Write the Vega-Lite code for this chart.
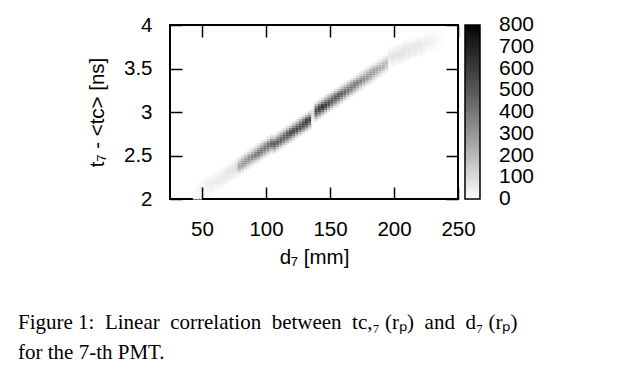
{
  "$schema": "https://vega.github.io/schema/vega-lite/v6.json",
  "width": 288,
  "height": 174,
  "autosize": {"type": "none"},
  "padding": {"left": 170, "top": 25, "right": 164, "bottom": 185},
  "background": "white",
  "config": {
    "view": {"stroke": "black", "strokeWidth": 2},
    "font": "Liberation Sans",
    "axis": {"grid": false, "domain": false, "tickColor": "black", "tickWidth": 1.5, "tickSize": -12, "labelColor": "black", "labelFontSize": 20.5, "labelFont": "Liberation Sans", "labelFlush": false, "titleFontSize": 20.5, "titleFont": "Liberation Sans", "titleFontWeight": "normal", "titleColor": "black"}
  },
  "title": {
    "text": ["Figure 1:\u00a0 Linear\u00a0 correlation\u00a0 between\u00a0 tc,₇ (rₚ)\u00a0 and\u00a0 d₇ (rₚ)", "for the 7-th PMT."],
    "orient": "bottom", "anchor": "start", "frame": "group", "dx": -152, "offset": 44,
    "font": "Liberation Serif", "fontSize": 21, "fontWeight": "normal", "color": "black", "lineHeight": 30
  },
  "data": {"values": [
{"d":42.5,"t":2,"n":16},{"d":42.5,"t":2.025,"n":19},{"d":42.5,"t":2.05,"n":20},{"d":42.5,"t":2.075,"n":19},{"d":42.5,"t":2.1,"n":16},{"d":42.5,"t":2.125,"n":11},
{"d":45,"t":2,"n":15},{"d":45,"t":2.025,"n":22},{"d":45,"t":2.05,"n":27},{"d":45,"t":2.075,"n":28},{"d":45,"t":2.1,"n":27},{"d":45,"t":2.125,"n":22},{"d":45,"t":2.15,"n":15},{"d":45,"t":2.175,"n":8},
{"d":47.5,"t":2,"n":11},{"d":47.5,"t":2.025,"n":19},{"d":47.5,"t":2.05,"n":28},{"d":47.5,"t":2.075,"n":33},{"d":47.5,"t":2.1,"n":35},{"d":47.5,"t":2.125,"n":33},{"d":47.5,"t":2.15,"n":28},{"d":47.5,"t":2.175,"n":19},{"d":47.5,"t":2.2,"n":11},
{"d":50,"t":2.025,"n":12},{"d":50,"t":2.05,"n":22},{"d":50,"t":2.075,"n":32},{"d":50,"t":2.1,"n":38},{"d":50,"t":2.125,"n":40},{"d":50,"t":2.15,"n":38},{"d":50,"t":2.175,"n":32},{"d":50,"t":2.2,"n":22},{"d":50,"t":2.225,"n":12},
{"d":52.5,"t":2.05,"n":13},{"d":52.5,"t":2.075,"n":24},{"d":52.5,"t":2.1,"n":35},{"d":52.5,"t":2.125,"n":42},{"d":52.5,"t":2.15,"n":44},{"d":52.5,"t":2.175,"n":42},{"d":52.5,"t":2.2,"n":35},{"d":52.5,"t":2.225,"n":24},{"d":52.5,"t":2.25,"n":13},
{"d":55,"t":2.05,"n":14},{"d":55,"t":2.075,"n":26},{"d":55,"t":2.1,"n":38},{"d":55,"t":2.125,"n":46},{"d":55,"t":2.15,"n":48},{"d":55,"t":2.175,"n":46},{"d":55,"t":2.2,"n":38},{"d":55,"t":2.225,"n":26},{"d":55,"t":2.25,"n":14},
{"d":57.5,"t":2.075,"n":16},{"d":57.5,"t":2.1,"n":29},{"d":57.5,"t":2.125,"n":42},{"d":57.5,"t":2.15,"n":49},{"d":57.5,"t":2.175,"n":52},{"d":57.5,"t":2.2,"n":49},{"d":57.5,"t":2.225,"n":42},{"d":57.5,"t":2.25,"n":29},{"d":57.5,"t":2.275,"n":16},
{"d":60,"t":2.1,"n":17},{"d":60,"t":2.125,"n":31},{"d":60,"t":2.15,"n":45},{"d":60,"t":2.175,"n":53},{"d":60,"t":2.2,"n":56},{"d":60,"t":2.225,"n":53},{"d":60,"t":2.25,"n":45},{"d":60,"t":2.275,"n":31},{"d":60,"t":2.3,"n":17},
{"d":62.5,"t":2.125,"n":18},{"d":62.5,"t":2.15,"n":33},{"d":62.5,"t":2.175,"n":48},{"d":62.5,"t":2.2,"n":57},{"d":62.5,"t":2.225,"n":60},{"d":62.5,"t":2.25,"n":57},{"d":62.5,"t":2.275,"n":48},{"d":62.5,"t":2.3,"n":33},{"d":62.5,"t":2.325,"n":18},
{"d":65,"t":2.15,"n":20},{"d":65,"t":2.175,"n":36},{"d":65,"t":2.2,"n":52},{"d":65,"t":2.225,"n":62},{"d":65,"t":2.25,"n":65},{"d":65,"t":2.275,"n":62},{"d":65,"t":2.3,"n":52},{"d":65,"t":2.325,"n":36},{"d":65,"t":2.35,"n":20},
{"d":67.5,"t":2.175,"n":21},{"d":67.5,"t":2.2,"n":39},{"d":67.5,"t":2.225,"n":56},{"d":67.5,"t":2.25,"n":67},{"d":67.5,"t":2.275,"n":70},{"d":67.5,"t":2.3,"n":67},{"d":67.5,"t":2.325,"n":56},{"d":67.5,"t":2.35,"n":39},{"d":67.5,"t":2.375,"n":21},
{"d":70,"t":2.2,"n":23},{"d":70,"t":2.225,"n":41},{"d":70,"t":2.25,"n":60},{"d":70,"t":2.275,"n":71},{"d":70,"t":2.3,"n":75},{"d":70,"t":2.325,"n":71},{"d":70,"t":2.35,"n":60},{"d":70,"t":2.375,"n":41},{"d":70,"t":2.4,"n":23},
{"d":72.5,"t":2.225,"n":26},{"d":72.5,"t":2.25,"n":47},{"d":72.5,"t":2.275,"n":68},{"d":72.5,"t":2.3,"n":81},{"d":72.5,"t":2.325,"n":85},{"d":72.5,"t":2.35,"n":81},{"d":72.5,"t":2.375,"n":68},{"d":72.5,"t":2.4,"n":47},{"d":72.5,"t":2.425,"n":26},
{"d":75,"t":2.25,"n":30},{"d":75,"t":2.275,"n":55},{"d":75,"t":2.3,"n":80},{"d":75,"t":2.325,"n":95},{"d":75,"t":2.35,"n":100},{"d":75,"t":2.375,"n":95},{"d":75,"t":2.4,"n":80},{"d":75,"t":2.425,"n":55},{"d":75,"t":2.45,"n":30},
{"d":77.5,"t":2.275,"n":35},{"d":77.5,"t":2.3,"n":86},{"d":77.5,"t":2.325,"n":165},{"d":77.5,"t":2.35,"n":238},{"d":77.5,"t":2.375,"n":270},{"d":77.5,"t":2.4,"n":238},{"d":77.5,"t":2.425,"n":165},{"d":77.5,"t":2.45,"n":86},{"d":77.5,"t":2.475,"n":35},
{"d":80,"t":2.3,"n":39},{"d":80,"t":2.325,"n":96},{"d":80,"t":2.35,"n":183},{"d":80,"t":2.375,"n":264},{"d":80,"t":2.4,"n":300},{"d":80,"t":2.425,"n":264},{"d":80,"t":2.45,"n":183},{"d":80,"t":2.475,"n":96},{"d":80,"t":2.5,"n":39},
{"d":82.5,"t":2.325,"n":42},{"d":82.5,"t":2.35,"n":104},{"d":82.5,"t":2.375,"n":198},{"d":82.5,"t":2.4,"n":286},{"d":82.5,"t":2.425,"n":325},{"d":82.5,"t":2.45,"n":286},{"d":82.5,"t":2.475,"n":198},{"d":82.5,"t":2.5,"n":104},{"d":82.5,"t":2.525,"n":42},
{"d":85,"t":2.35,"n":46},{"d":85,"t":2.375,"n":112},{"d":85,"t":2.4,"n":214},{"d":85,"t":2.425,"n":308},{"d":85,"t":2.45,"n":350},{"d":85,"t":2.475,"n":308},{"d":85,"t":2.5,"n":214},{"d":85,"t":2.525,"n":112},{"d":85,"t":2.55,"n":46},
{"d":87.5,"t":2.375,"n":48},{"d":87.5,"t":2.4,"n":118},{"d":87.5,"t":2.425,"n":226},{"d":87.5,"t":2.45,"n":326},{"d":87.5,"t":2.475,"n":370},{"d":87.5,"t":2.5,"n":326},{"d":87.5,"t":2.525,"n":226},{"d":87.5,"t":2.55,"n":118},{"d":87.5,"t":2.575,"n":48},
{"d":90,"t":2.4,"n":51},{"d":90,"t":2.425,"n":125},{"d":90,"t":2.45,"n":238},{"d":90,"t":2.475,"n":343},{"d":90,"t":2.5,"n":390},{"d":90,"t":2.525,"n":343},{"d":90,"t":2.55,"n":238},{"d":90,"t":2.575,"n":125},{"d":90,"t":2.6,"n":51},
{"d":92.5,"t":2.425,"n":53},{"d":92.5,"t":2.45,"n":131},{"d":92.5,"t":2.475,"n":250},{"d":92.5,"t":2.5,"n":361},{"d":92.5,"t":2.525,"n":410},{"d":92.5,"t":2.55,"n":361},{"d":92.5,"t":2.575,"n":250},{"d":92.5,"t":2.6,"n":131},{"d":92.5,"t":2.625,"n":53},
{"d":95,"t":2.45,"n":56},{"d":95,"t":2.475,"n":138},{"d":95,"t":2.5,"n":262},{"d":95,"t":2.525,"n":378},{"d":95,"t":2.55,"n":430},{"d":95,"t":2.575,"n":378},{"d":95,"t":2.6,"n":262},{"d":95,"t":2.625,"n":138},{"d":95,"t":2.65,"n":56},
{"d":97.5,"t":2.475,"n":58},{"d":97.5,"t":2.5,"n":142},{"d":97.5,"t":2.525,"n":271},{"d":97.5,"t":2.55,"n":392},{"d":97.5,"t":2.575,"n":445},{"d":97.5,"t":2.6,"n":392},{"d":97.5,"t":2.625,"n":271},{"d":97.5,"t":2.65,"n":142},{"d":97.5,"t":2.675,"n":58},
{"d":100,"t":2.5,"n":60},{"d":100,"t":2.525,"n":147},{"d":100,"t":2.55,"n":281},{"d":100,"t":2.575,"n":405},{"d":100,"t":2.6,"n":460},{"d":100,"t":2.625,"n":405},{"d":100,"t":2.65,"n":281},{"d":100,"t":2.675,"n":147},{"d":100,"t":2.7,"n":60},
{"d":102.5,"t":2.525,"n":62},{"d":102.5,"t":2.55,"n":152},{"d":102.5,"t":2.575,"n":290},{"d":102.5,"t":2.6,"n":418},{"d":102.5,"t":2.625,"n":475},{"d":102.5,"t":2.65,"n":418},{"d":102.5,"t":2.675,"n":290},{"d":102.5,"t":2.7,"n":152},{"d":102.5,"t":2.725,"n":62},
{"d":105,"t":2.525,"n":64},{"d":105,"t":2.55,"n":157},{"d":105,"t":2.575,"n":299},{"d":105,"t":2.6,"n":431},{"d":105,"t":2.625,"n":490},{"d":105,"t":2.65,"n":431},{"d":105,"t":2.675,"n":299},{"d":105,"t":2.7,"n":157},{"d":105,"t":2.725,"n":64},
{"d":107.5,"t":2.55,"n":66},{"d":107.5,"t":2.575,"n":162},{"d":107.5,"t":2.6,"n":308},{"d":107.5,"t":2.625,"n":444},{"d":107.5,"t":2.65,"n":505},{"d":107.5,"t":2.675,"n":444},{"d":107.5,"t":2.7,"n":308},{"d":107.5,"t":2.725,"n":162},{"d":107.5,"t":2.75,"n":66},
{"d":110,"t":2.575,"n":68},{"d":110,"t":2.6,"n":166},{"d":110,"t":2.625,"n":317},{"d":110,"t":2.65,"n":458},{"d":110,"t":2.675,"n":520},{"d":110,"t":2.7,"n":458},{"d":110,"t":2.725,"n":317},{"d":110,"t":2.75,"n":166},{"d":110,"t":2.775,"n":68},
{"d":112.5,"t":2.6,"n":70},{"d":112.5,"t":2.625,"n":171},{"d":112.5,"t":2.65,"n":326},{"d":112.5,"t":2.675,"n":471},{"d":112.5,"t":2.7,"n":535},{"d":112.5,"t":2.725,"n":471},{"d":112.5,"t":2.75,"n":326},{"d":112.5,"t":2.775,"n":171},{"d":112.5,"t":2.8,"n":70},
{"d":115,"t":2.625,"n":72},{"d":115,"t":2.65,"n":176},{"d":115,"t":2.675,"n":336},{"d":115,"t":2.7,"n":484},{"d":115,"t":2.725,"n":550},{"d":115,"t":2.75,"n":484},{"d":115,"t":2.775,"n":336},{"d":115,"t":2.8,"n":176},{"d":115,"t":2.825,"n":72},
{"d":117.5,"t":2.65,"n":73},{"d":117.5,"t":2.675,"n":181},{"d":117.5,"t":2.7,"n":345},{"d":117.5,"t":2.725,"n":497},{"d":117.5,"t":2.75,"n":565},{"d":117.5,"t":2.775,"n":497},{"d":117.5,"t":2.8,"n":345},{"d":117.5,"t":2.825,"n":181},{"d":117.5,"t":2.85,"n":73},
{"d":120,"t":2.675,"n":75},{"d":120,"t":2.7,"n":186},{"d":120,"t":2.725,"n":354},{"d":120,"t":2.75,"n":510},{"d":120,"t":2.775,"n":580},{"d":120,"t":2.8,"n":510},{"d":120,"t":2.825,"n":354},{"d":120,"t":2.85,"n":186},{"d":120,"t":2.875,"n":75},
{"d":122.5,"t":2.7,"n":77},{"d":122.5,"t":2.725,"n":190},{"d":122.5,"t":2.75,"n":363},{"d":122.5,"t":2.775,"n":524},{"d":122.5,"t":2.8,"n":595},{"d":122.5,"t":2.825,"n":524},{"d":122.5,"t":2.85,"n":363},{"d":122.5,"t":2.875,"n":190},{"d":122.5,"t":2.9,"n":77},
{"d":125,"t":2.725,"n":79},{"d":125,"t":2.75,"n":195},{"d":125,"t":2.775,"n":372},{"d":125,"t":2.8,"n":537},{"d":125,"t":2.825,"n":610},{"d":125,"t":2.85,"n":537},{"d":125,"t":2.875,"n":372},{"d":125,"t":2.9,"n":195},{"d":125,"t":2.925,"n":79},
{"d":127.5,"t":2.75,"n":81},{"d":127.5,"t":2.775,"n":200},{"d":127.5,"t":2.8,"n":381},{"d":127.5,"t":2.825,"n":550},{"d":127.5,"t":2.85,"n":625},{"d":127.5,"t":2.875,"n":550},{"d":127.5,"t":2.9,"n":381},{"d":127.5,"t":2.925,"n":200},{"d":127.5,"t":2.95,"n":81},
{"d":130,"t":2.775,"n":83},{"d":130,"t":2.8,"n":205},{"d":130,"t":2.825,"n":390},{"d":130,"t":2.85,"n":563},{"d":130,"t":2.875,"n":640},{"d":130,"t":2.9,"n":563},{"d":130,"t":2.925,"n":390},{"d":130,"t":2.95,"n":205},{"d":130,"t":2.975,"n":83},
{"d":132.5,"t":2.8,"n":75},{"d":132.5,"t":2.825,"n":186},{"d":132.5,"t":2.85,"n":354},{"d":132.5,"t":2.875,"n":510},{"d":132.5,"t":2.9,"n":580},{"d":132.5,"t":2.925,"n":510},{"d":132.5,"t":2.95,"n":354},{"d":132.5,"t":2.975,"n":186},{"d":132.5,"t":3,"n":75},
{"d":135,"t":2.875,"n":13},{"d":135,"t":2.9,"n":32},{"d":135,"t":2.925,"n":61},{"d":135,"t":2.95,"n":88},{"d":135,"t":2.975,"n":100},{"d":135,"t":3,"n":88},{"d":135,"t":3.025,"n":61},{"d":135,"t":3.05,"n":32},{"d":135,"t":3.075,"n":13},
{"d":137.5,"t":2.9,"n":79},{"d":137.5,"t":2.925,"n":195},{"d":137.5,"t":2.95,"n":372},{"d":137.5,"t":2.975,"n":537},{"d":137.5,"t":3,"n":610},{"d":137.5,"t":3.025,"n":537},{"d":137.5,"t":3.05,"n":372},{"d":137.5,"t":3.075,"n":195},{"d":137.5,"t":3.1,"n":79},
{"d":140,"t":2.925,"n":83},{"d":140,"t":2.95,"n":205},{"d":140,"t":2.975,"n":390},{"d":140,"t":3,"n":563},{"d":140,"t":3.025,"n":640},{"d":140,"t":3.05,"n":563},{"d":140,"t":3.075,"n":390},{"d":140,"t":3.1,"n":205},{"d":140,"t":3.125,"n":83},
{"d":142.5,"t":2.95,"n":82},{"d":142.5,"t":2.975,"n":202},{"d":142.5,"t":3,"n":384},{"d":142.5,"t":3.025,"n":554},{"d":142.5,"t":3.05,"n":630},{"d":142.5,"t":3.075,"n":554},{"d":142.5,"t":3.1,"n":384},{"d":142.5,"t":3.125,"n":202},{"d":142.5,"t":3.15,"n":82},
{"d":145,"t":2.975,"n":79},{"d":145,"t":3,"n":195},{"d":145,"t":3.025,"n":372},{"d":145,"t":3.05,"n":537},{"d":145,"t":3.075,"n":610},{"d":145,"t":3.1,"n":537},{"d":145,"t":3.125,"n":372},{"d":145,"t":3.15,"n":195},{"d":145,"t":3.175,"n":79},
{"d":147.5,"t":3,"n":77},{"d":147.5,"t":3.025,"n":189},{"d":147.5,"t":3.05,"n":360},{"d":147.5,"t":3.075,"n":519},{"d":147.5,"t":3.1,"n":590},{"d":147.5,"t":3.125,"n":519},{"d":147.5,"t":3.15,"n":360},{"d":147.5,"t":3.175,"n":189},{"d":147.5,"t":3.2,"n":77},
{"d":150,"t":3.025,"n":73},{"d":150,"t":3.05,"n":181},{"d":150,"t":3.075,"n":345},{"d":150,"t":3.1,"n":497},{"d":150,"t":3.125,"n":565},{"d":150,"t":3.15,"n":497},{"d":150,"t":3.175,"n":345},{"d":150,"t":3.2,"n":181},{"d":150,"t":3.225,"n":73},
{"d":152.5,"t":3.05,"n":70},{"d":152.5,"t":3.075,"n":173},{"d":152.5,"t":3.1,"n":329},{"d":152.5,"t":3.125,"n":475},{"d":152.5,"t":3.15,"n":540},{"d":152.5,"t":3.175,"n":475},{"d":152.5,"t":3.2,"n":329},{"d":152.5,"t":3.225,"n":173},{"d":152.5,"t":3.25,"n":70},
{"d":155,"t":3.075,"n":67},{"d":155,"t":3.1,"n":165},{"d":155,"t":3.125,"n":314},{"d":155,"t":3.15,"n":453},{"d":155,"t":3.175,"n":515},{"d":155,"t":3.2,"n":453},{"d":155,"t":3.225,"n":314},{"d":155,"t":3.25,"n":165},{"d":155,"t":3.275,"n":67},
{"d":157.5,"t":3.1,"n":64},{"d":157.5,"t":3.125,"n":157},{"d":157.5,"t":3.15,"n":299},{"d":157.5,"t":3.175,"n":431},{"d":157.5,"t":3.2,"n":490},{"d":157.5,"t":3.225,"n":431},{"d":157.5,"t":3.25,"n":299},{"d":157.5,"t":3.275,"n":157},{"d":157.5,"t":3.3,"n":64},
{"d":160,"t":3.125,"n":61},{"d":160,"t":3.15,"n":150},{"d":160,"t":3.175,"n":287},{"d":160,"t":3.2,"n":414},{"d":160,"t":3.225,"n":470},{"d":160,"t":3.25,"n":414},{"d":160,"t":3.275,"n":287},{"d":160,"t":3.3,"n":150},{"d":160,"t":3.325,"n":61},
{"d":162.5,"t":3.15,"n":58},{"d":162.5,"t":3.175,"n":142},{"d":162.5,"t":3.2,"n":271},{"d":162.5,"t":3.225,"n":392},{"d":162.5,"t":3.25,"n":445},{"d":162.5,"t":3.275,"n":392},{"d":162.5,"t":3.3,"n":271},{"d":162.5,"t":3.325,"n":142},{"d":162.5,"t":3.35,"n":58},
{"d":165,"t":3.175,"n":55},{"d":165,"t":3.2,"n":136},{"d":165,"t":3.225,"n":259},{"d":165,"t":3.25,"n":374},{"d":165,"t":3.275,"n":425},{"d":165,"t":3.3,"n":374},{"d":165,"t":3.325,"n":259},{"d":165,"t":3.35,"n":136},{"d":165,"t":3.375,"n":55},
{"d":167.5,"t":3.2,"n":53},{"d":167.5,"t":3.225,"n":130},{"d":167.5,"t":3.25,"n":247},{"d":167.5,"t":3.275,"n":356},{"d":167.5,"t":3.3,"n":405},{"d":167.5,"t":3.325,"n":356},{"d":167.5,"t":3.35,"n":247},{"d":167.5,"t":3.375,"n":130},{"d":167.5,"t":3.4,"n":53},
{"d":170,"t":3.225,"n":50},{"d":170,"t":3.25,"n":123},{"d":170,"t":3.275,"n":235},{"d":170,"t":3.3,"n":339},{"d":170,"t":3.325,"n":385},{"d":170,"t":3.35,"n":339},{"d":170,"t":3.375,"n":235},{"d":170,"t":3.4,"n":123},{"d":170,"t":3.425,"n":50},
{"d":172.5,"t":3.25,"n":47},{"d":172.5,"t":3.275,"n":117},{"d":172.5,"t":3.3,"n":223},{"d":172.5,"t":3.325,"n":321},{"d":172.5,"t":3.35,"n":365},{"d":172.5,"t":3.375,"n":321},{"d":172.5,"t":3.4,"n":223},{"d":172.5,"t":3.425,"n":117},{"d":172.5,"t":3.45,"n":47},
{"d":175,"t":3.275,"n":45},{"d":175,"t":3.3,"n":110},{"d":175,"t":3.325,"n":210},{"d":175,"t":3.35,"n":304},{"d":175,"t":3.375,"n":345},{"d":175,"t":3.4,"n":304},{"d":175,"t":3.425,"n":210},{"d":175,"t":3.45,"n":110},{"d":175,"t":3.475,"n":45},
{"d":177.5,"t":3.3,"n":42},{"d":177.5,"t":3.325,"n":104},{"d":177.5,"t":3.35,"n":198},{"d":177.5,"t":3.375,"n":286},{"d":177.5,"t":3.4,"n":325},{"d":177.5,"t":3.425,"n":286},{"d":177.5,"t":3.45,"n":198},{"d":177.5,"t":3.475,"n":104},{"d":177.5,"t":3.5,"n":42},
{"d":180,"t":3.325,"n":40},{"d":180,"t":3.35,"n":98},{"d":180,"t":3.375,"n":186},{"d":180,"t":3.4,"n":268},{"d":180,"t":3.425,"n":305},{"d":180,"t":3.45,"n":268},{"d":180,"t":3.475,"n":186},{"d":180,"t":3.5,"n":98},{"d":180,"t":3.525,"n":40},
{"d":182.5,"t":3.35,"n":38},{"d":182.5,"t":3.375,"n":93},{"d":182.5,"t":3.4,"n":177},{"d":182.5,"t":3.425,"n":255},{"d":182.5,"t":3.45,"n":290},{"d":182.5,"t":3.475,"n":255},{"d":182.5,"t":3.5,"n":177},{"d":182.5,"t":3.525,"n":93},{"d":182.5,"t":3.55,"n":38},
{"d":185,"t":3.375,"n":35},{"d":185,"t":3.4,"n":86},{"d":185,"t":3.425,"n":165},{"d":185,"t":3.45,"n":238},{"d":185,"t":3.475,"n":270},{"d":185,"t":3.5,"n":238},{"d":185,"t":3.525,"n":165},{"d":185,"t":3.55,"n":86},{"d":185,"t":3.575,"n":35},
{"d":187.5,"t":3.4,"n":33},{"d":187.5,"t":3.425,"n":80},{"d":187.5,"t":3.45,"n":153},{"d":187.5,"t":3.475,"n":220},{"d":187.5,"t":3.5,"n":250},{"d":187.5,"t":3.525,"n":220},{"d":187.5,"t":3.55,"n":153},{"d":187.5,"t":3.575,"n":80},{"d":187.5,"t":3.6,"n":33},
{"d":190,"t":3.425,"n":30},{"d":190,"t":3.45,"n":74},{"d":190,"t":3.475,"n":140},{"d":190,"t":3.5,"n":202},{"d":190,"t":3.525,"n":230},{"d":190,"t":3.55,"n":202},{"d":190,"t":3.575,"n":140},{"d":190,"t":3.6,"n":74},{"d":190,"t":3.625,"n":30},
{"d":192.5,"t":3.45,"n":26},{"d":192.5,"t":3.475,"n":64},{"d":192.5,"t":3.5,"n":122},{"d":192.5,"t":3.525,"n":176},{"d":192.5,"t":3.55,"n":200},{"d":192.5,"t":3.575,"n":176},{"d":192.5,"t":3.6,"n":122},{"d":192.5,"t":3.625,"n":64},{"d":192.5,"t":3.65,"n":26},
{"d":195,"t":3.525,"n":20},{"d":195,"t":3.55,"n":36},{"d":195,"t":3.575,"n":52},{"d":195,"t":3.6,"n":62},{"d":195,"t":3.625,"n":65},{"d":195,"t":3.65,"n":62},{"d":195,"t":3.675,"n":52},{"d":195,"t":3.7,"n":36},{"d":195,"t":3.725,"n":20},
{"d":197.5,"t":3.525,"n":24},{"d":197.5,"t":3.55,"n":44},{"d":197.5,"t":3.575,"n":64},{"d":197.5,"t":3.6,"n":76},{"d":197.5,"t":3.625,"n":80},{"d":197.5,"t":3.65,"n":76},{"d":197.5,"t":3.675,"n":64},{"d":197.5,"t":3.7,"n":44},{"d":197.5,"t":3.725,"n":24},
{"d":200,"t":3.55,"n":26},{"d":200,"t":3.575,"n":47},{"d":200,"t":3.6,"n":68},{"d":200,"t":3.625,"n":81},{"d":200,"t":3.65,"n":85},{"d":200,"t":3.675,"n":81},{"d":200,"t":3.7,"n":68},{"d":200,"t":3.725,"n":47},{"d":200,"t":3.75,"n":26},
{"d":202.5,"t":3.55,"n":26},{"d":202.5,"t":3.575,"n":47},{"d":202.5,"t":3.6,"n":68},{"d":202.5,"t":3.625,"n":81},{"d":202.5,"t":3.65,"n":85},{"d":202.5,"t":3.675,"n":81},{"d":202.5,"t":3.7,"n":68},{"d":202.5,"t":3.725,"n":47},{"d":202.5,"t":3.75,"n":26},
{"d":205,"t":3.575,"n":26},{"d":205,"t":3.6,"n":47},{"d":205,"t":3.625,"n":68},{"d":205,"t":3.65,"n":81},{"d":205,"t":3.675,"n":85},{"d":205,"t":3.7,"n":81},{"d":205,"t":3.725,"n":68},{"d":205,"t":3.75,"n":47},{"d":205,"t":3.775,"n":26},
{"d":207.5,"t":3.6,"n":24},{"d":207.5,"t":3.625,"n":44},{"d":207.5,"t":3.65,"n":64},{"d":207.5,"t":3.675,"n":76},{"d":207.5,"t":3.7,"n":80},{"d":207.5,"t":3.725,"n":76},{"d":207.5,"t":3.75,"n":64},{"d":207.5,"t":3.775,"n":44},{"d":207.5,"t":3.8,"n":24},
{"d":210,"t":3.6,"n":24},{"d":210,"t":3.625,"n":44},{"d":210,"t":3.65,"n":64},{"d":210,"t":3.675,"n":76},{"d":210,"t":3.7,"n":80},{"d":210,"t":3.725,"n":76},{"d":210,"t":3.75,"n":64},{"d":210,"t":3.775,"n":44},{"d":210,"t":3.8,"n":24},
{"d":212.5,"t":3.625,"n":23},{"d":212.5,"t":3.65,"n":41},{"d":212.5,"t":3.675,"n":60},{"d":212.5,"t":3.7,"n":71},{"d":212.5,"t":3.725,"n":75},{"d":212.5,"t":3.75,"n":71},{"d":212.5,"t":3.775,"n":60},{"d":212.5,"t":3.8,"n":41},{"d":212.5,"t":3.825,"n":23},
{"d":215,"t":3.625,"n":21},{"d":215,"t":3.65,"n":39},{"d":215,"t":3.675,"n":56},{"d":215,"t":3.7,"n":67},{"d":215,"t":3.725,"n":70},{"d":215,"t":3.75,"n":67},{"d":215,"t":3.775,"n":56},{"d":215,"t":3.8,"n":39},{"d":215,"t":3.825,"n":21},
{"d":217.5,"t":3.65,"n":20},{"d":217.5,"t":3.675,"n":36},{"d":217.5,"t":3.7,"n":52},{"d":217.5,"t":3.725,"n":62},{"d":217.5,"t":3.75,"n":65},{"d":217.5,"t":3.775,"n":62},{"d":217.5,"t":3.8,"n":52},{"d":217.5,"t":3.825,"n":36},{"d":217.5,"t":3.85,"n":20},
{"d":220,"t":3.65,"n":18},{"d":220,"t":3.675,"n":33},{"d":220,"t":3.7,"n":48},{"d":220,"t":3.725,"n":57},{"d":220,"t":3.75,"n":60},{"d":220,"t":3.775,"n":57},{"d":220,"t":3.8,"n":48},{"d":220,"t":3.825,"n":33},{"d":220,"t":3.85,"n":18},
{"d":222.5,"t":3.675,"n":17},{"d":222.5,"t":3.7,"n":30},{"d":222.5,"t":3.725,"n":44},{"d":222.5,"t":3.75,"n":52},{"d":222.5,"t":3.775,"n":55},{"d":222.5,"t":3.8,"n":52},{"d":222.5,"t":3.825,"n":44},{"d":222.5,"t":3.85,"n":30},{"d":222.5,"t":3.875,"n":17},
{"d":225,"t":3.7,"n":14},{"d":225,"t":3.725,"n":26},{"d":225,"t":3.75,"n":38},{"d":225,"t":3.775,"n":46},{"d":225,"t":3.8,"n":48},{"d":225,"t":3.825,"n":46},{"d":225,"t":3.85,"n":38},{"d":225,"t":3.875,"n":26},{"d":225,"t":3.9,"n":14},
{"d":227.5,"t":3.7,"n":13},{"d":227.5,"t":3.725,"n":23},{"d":227.5,"t":3.75,"n":34},{"d":227.5,"t":3.775,"n":40},{"d":227.5,"t":3.8,"n":42},{"d":227.5,"t":3.825,"n":40},{"d":227.5,"t":3.85,"n":34},{"d":227.5,"t":3.875,"n":23},{"d":227.5,"t":3.9,"n":13},
{"d":230,"t":3.725,"n":10},{"d":230,"t":3.75,"n":19},{"d":230,"t":3.775,"n":27},{"d":230,"t":3.8,"n":32},{"d":230,"t":3.825,"n":34},{"d":230,"t":3.85,"n":32},{"d":230,"t":3.875,"n":27},{"d":230,"t":3.9,"n":19},{"d":230,"t":3.925,"n":10},
{"d":232.5,"t":3.725,"n":8},{"d":232.5,"t":3.75,"n":14},{"d":232.5,"t":3.775,"n":20},{"d":232.5,"t":3.8,"n":24},{"d":232.5,"t":3.825,"n":25},{"d":232.5,"t":3.85,"n":24},{"d":232.5,"t":3.875,"n":20},{"d":232.5,"t":3.9,"n":14},{"d":232.5,"t":3.925,"n":8},
{"d":235,"t":3.775,"n":8},{"d":235,"t":3.8,"n":12},{"d":235,"t":3.825,"n":14},{"d":235,"t":3.85,"n":15},{"d":235,"t":3.875,"n":14},{"d":235,"t":3.9,"n":12},{"d":235,"t":3.925,"n":8}
  ]},
  "layer": [
    {
      "mark": {"type": "rect"},
      "encoding": {
        "x": {"field": "d", "type": "quantitative", "bin": {"binned": true, "step": 2.5},
              "scale": {"domain": [25, 250], "nice": false, "zero": false},
              "axis": {"orient": "bottom", "values": [50, 100, 150, 200, 250], "format": "d", "title": "d₇ [mm]", "labelPadding": 32, "titlePadding": 8}},
        "y": {"field": "t", "type": "quantitative", "bin": {"binned": true, "step": 0.025},
              "scale": {"domain": [2, 4], "nice": false, "zero": false},
              "axis": {"orient": "left", "values": [2, 2.5, 3, 3.5, 4], "format": "~g", "title": "t₇ - <tc> [ns]", "labelPadding": 30, "titlePadding": 16}},
        "color": {"field": "n", "type": "quantitative",
                  "scale": {"type": "linear", "domain": [0, 800], "range": ["#ffffff", "#000000"]},
                  "legend": {"type": "gradient", "orient": "none", "legendX": 295, "legendY": 0, "title": null, "direction": "vertical",
                             "gradientLength": 174, "gradientThickness": 15, "gradientStrokeColor": "black", "gradientStrokeWidth": 1.5,
                             "values": [0, 100, 200, 300, 400, 500, 600, 700, 800], "labelFontSize": 21, "labelFont": "Liberation Sans",
                             "labelColor": "black", "labelOffset": 19, "labelOverlap": false, "padding": 0,
                             "encode": {"labels": {"update": {"baseline": {"value": "middle"}}}}}}
      }
    },
    {
      "mark": {"type": "rect", "opacity": 0},
      "encoding": {
        "x": {"field": "d", "type": "quantitative", "bin": {"binned": true, "step": 2.5},
              "axis": {"orient": "top", "values": [50, 100, 150, 200, 250], "labels": false, "title": null}},
        "y": {"field": "t", "type": "quantitative", "bin": {"binned": true, "step": 0.025},
              "axis": {"orient": "right", "values": [2, 2.5, 3, 3.5, 4], "labels": false, "title": null}}
      }
    }
  ],
  "resolve": {"axis": {"x": "independent", "y": "independent"}}
}
